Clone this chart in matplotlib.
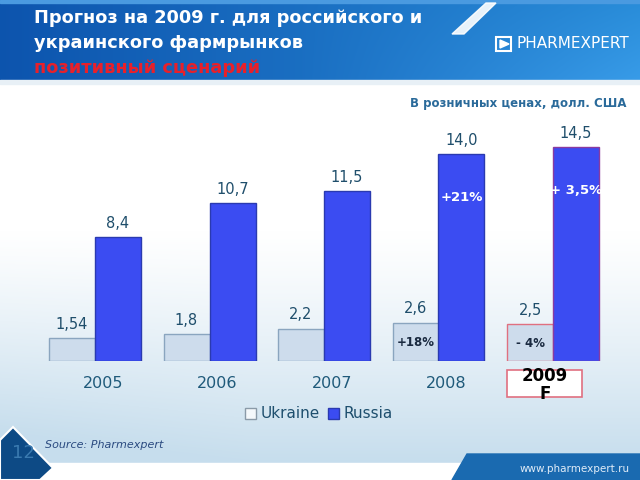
import numpy as np
import matplotlib
matplotlib.use("Agg")
import matplotlib.pyplot as plt
from matplotlib.patches import Rectangle, Polygon, Patch

years = ["2005", "2006", "2007", "2008", "2009"]
ukraine = [1.54, 1.8, 2.2, 2.6, 2.5]
russia = [8.4, 10.7, 11.5, 14.0, 14.5]
ukraine_lbl = ["1,54", "1,8", "2,2", "2,6", "2,5"]
russia_lbl = ["8,4", "10,7", "11,5", "14,0", "14,5"]
ukr_growth = {3: "+18%", 4: "- 4%"}
rus_growth = {3: "+21%", 4: "+ 3,5%"}

W, H = 640, 480
fig = plt.figure(figsize=(6.4, 4.8), dpi=100)

def fx(p):
    return p / W

def fy(p):
    return 1 - p / H

# ---------- background ----------
bg = fig.add_axes([0, 0, 1, 1], zorder=0)
bg.set_xlim(0, W)
bg.set_ylim(H, 0)
bg.axis("off")
yy, xx = np.mgrid[0:H, 0:W]
top = np.array([1.0, 1.0, 1.0])
bot = np.array([0.78, 0.87, 0.93])
t = np.clip((yy - 230) / 230.0, 0, 1) ** 1.2
t = np.clip(t + 0.15 * np.clip((250 - xx) / 250.0, 0, 1) * np.clip((yy - 230) / 200.0, 0, 1), 0, 1)
img = top[None, None, :] * (1 - t[..., None]) + bot[None, None, :] * t[..., None]
bg.imshow(img, extent=(0, W, H, 0), aspect="auto", zorder=0)

# banner
by, bx = np.mgrid[0:80, 0:W]
c1 = np.array([0.05, 0.33, 0.68])
c2 = np.array([0.16, 0.55, 0.85])
s = np.clip(bx / W, 0, 1)[..., None]
ban = c1 * (1 - s) + c2 * s
ban = ban + 0.06 * np.clip((by / 80.0), 0, 1)[..., None] * np.clip((bx - 300) / 340.0, 0, 1)[..., None]
ban = np.clip(ban, 0, 1)
bg.imshow(ban, extent=(0, W, 80, 0), aspect="auto", zorder=1)
bg.add_patch(Rectangle((0, 0), W, 3, color="#4a9ae0", zorder=2))
bg.add_patch(Polygon([[486, 3], [496, 3], [464, 34], [452, 34]], closed=True,
                     color="white", alpha=0.9, zorder=2))
bg.add_patch(Rectangle((0, 80), W, 4, color="#e8f0f6", zorder=2))

# logo
bg.add_patch(Rectangle((496, 37), 15, 14, fill=False, ec="white", lw=1.5, zorder=3))
bg.add_patch(Polygon([[500, 40], [509, 44], [500, 48]], closed=True, color="white", zorder=3))
fig.text(fx(516), fy(44), "PHARMEXPERT", color="white", fontsize=11, va="center",
         ha="left", family="DejaVu Sans", zorder=5)

# bottom decorations
bg.add_patch(Rectangle((0, 463), W, 17, color="white", zorder=2))
bg.add_patch(Polygon([[452, 480], [467, 454], [W, 454], [W, 480]], closed=True,
                     color="#1a6ab0", zorder=3))
bg.add_patch(Polygon([[0, 440], [13, 427], [53, 468], [40, 480], [0, 480]], closed=True,
                     color="#0d4a85", ec="white", lw=1.5, zorder=3))
fig.text(fx(520), fy(469), "www.pharmexpert.ru", color="#e0ecf8", fontsize=7.5,
         va="center", ha="left", zorder=5)
fig.text(fx(12), fy(453), "12", color="#3a7ab0", fontsize=13, va="center", ha="left", zorder=5)

# ---------- titles ----------
fig.text(fx(34), fy(18), "Прогноз на 2009 г. для российского и", color="white",
         fontsize=12.8, fontweight="bold", va="center", ha="left", zorder=5)
fig.text(fx(34), fy(43), "украинского фармрынков", color="white",
         fontsize=12.8, fontweight="bold", va="center", ha="left", zorder=5)
fig.text(fx(34), fy(68), "позитивный сценарий", color="#e8202a",
         fontsize=12.8, fontweight="bold", va="center", ha="left", zorder=5)
fig.text(fx(627), fy(104), "В розничных ценах, долл. США", color="#2a6a9a",
         fontsize=8.5, fontweight="bold", va="center", ha="right", zorder=5)

# ---------- chart ----------
px_per_unit = 14.76
base_px = 361
ymax = 16
left_px, right_px = 40, 620
group_px0, spacing = 95, 114.5
ax = fig.add_axes([fx(left_px), 1 - base_px / H, (right_px - left_px) / W,
                   ymax * px_per_unit / H], zorder=3)
ax.patch.set_alpha(0)
ax.set_xlim((left_px - group_px0) / spacing, (right_px - group_px0) / spacing)
ax.set_ylim(0, ymax)
for sp in ax.spines.values():
    sp.set_visible(False)
ax.set_yticks([])

x = np.arange(len(years))
w = 46 / spacing
ukr_edges = ["#8aa5bf"] * 4 + ["#e07080"]
rus_edges = ["#2a3ab0"] * 4 + ["#8a3aa0"]
ax.bar(x - w / 2, ukraine, w, color="#cddcec", edgecolor=ukr_edges, linewidth=1.0)
ax.bar(x + w / 2, russia, w, color="#3b4cf2", edgecolor=rus_edges, linewidth=1.0)

lblc = "#1f4e6b"
for i in range(len(years)):
    ax.annotate(ukraine_lbl[i], (x[i] - w / 2, ukraine[i]), xytext=(0, 10),
                textcoords="offset points", ha="center", va="center",
                fontsize=10.5, color=lblc)
    ax.annotate(russia_lbl[i], (x[i] + w / 2, russia[i]), xytext=(0, 10),
                textcoords="offset points", ha="center", va="center",
                fontsize=10.5, color=lblc)
for i, s_ in ukr_growth.items():
    ax.annotate(s_, (x[i] - w / 2, ukraine[i]), xytext=(0, -14),
                textcoords="offset points", ha="center", va="center",
                fontsize=8.5, fontweight="bold", color="#1a2a40")
for i, s_ in rus_growth.items():
    ax.annotate(s_, (x[i] + w / 2, russia[i]), xytext=(0, -31),
                textcoords="offset points", ha="center", va="center",
                fontsize=9.5, fontweight="bold", color="white")

ax.set_xticks(x[:4] + 0.07)
ax.set_xticklabels(years[:4], fontsize=11.5, color="#1f5a7a")
ax.tick_params(axis="x", length=0, pad=11)

# 2009 F box
fig.add_artist(Rectangle((fx(507), fy(397)), (582 - 507) / W, (397 - 370) / H,
                         transform=fig.transFigure, facecolor="white",
                         edgecolor="#e07080", lw=1.2, zorder=4))
fig.text(fx(545), fy(376), years[4], fontsize=12, fontweight="bold", color="black",
         ha="center", va="center", zorder=5)
fig.text(fx(545), fy(394), "F", fontsize=12, fontweight="bold", color="black",
         ha="center", va="center", zorder=5)

# legend
handles = [Patch(facecolor="#f4f8fb", edgecolor="#8a9aa8", label="Ukraine"),
           Patch(facecolor="#3b4cf2", edgecolor="#2a3ab0", label="Russia")]
leg = fig.legend(handles=handles, loc="center", bbox_to_anchor=(fx(319), fy(414)),
                 ncol=2, frameon=False, fontsize=11, handlelength=0.75, handleheight=0.75,
                 handletextpad=0.3, columnspacing=0.5)
for txt in leg.get_texts():
    txt.set_color("#1e4f6e")

fig.text(fx(45), fy(445), "Source: Pharmexpert", color="#2a4a80", fontsize=8,
         style="italic", va="center", ha="left", zorder=5)

fig.savefig("out.png", dpi=100)
